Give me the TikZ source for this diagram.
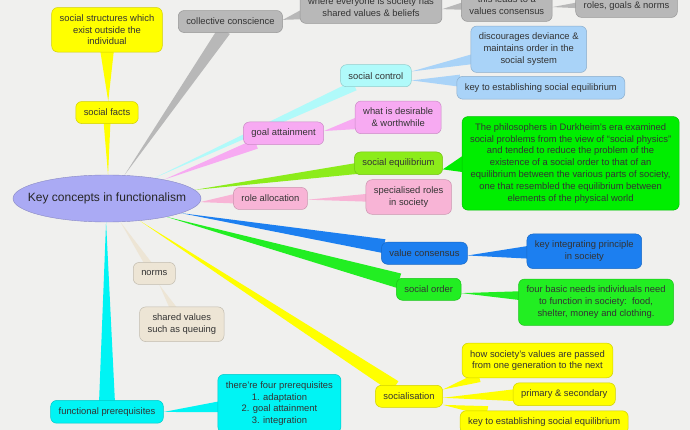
\documentclass[tikz,border=0pt]{standalone}
\usepackage{fontspec}
\setmainfont{Liberation Sans}
\usepackage{xcolor}
\usetikzlibrary{positioning, calc, backgrounds, shapes.geometric}

\definecolor{paper}{HTML}{F0F0EE}
\definecolor{sun}{HTML}{FFFF00}
\definecolor{ash}{HTML}{B8B8B8}
\definecolor{ice}{HTML}{B0FAFA}
\definecolor{sky}{HTML}{A9D3F8}
\definecolor{orchid}{HTML}{F7AAF2}
\definecolor{rose}{HTML}{F8B4D6}
\definecolor{lime}{HTML}{8CEC1A}
\definecolor{leaf}{HTML}{00EE00}
\definecolor{grass}{HTML}{22EE22}
\definecolor{ocean}{HTML}{1C7FF0}
\definecolor{sand}{HTML}{EDE5D5}
\definecolor{aqua}{HTML}{00F4F4}
\definecolor{hubfill}{HTML}{AAAAF4}

\begin{document}
\begin{tikzpicture}[
    x=1pt, y=-1pt,
    hub/.style={ellipse, draw=hubfill!80!black, fill=hubfill, minimum width=188pt, minimum height=47pt, inner xsep=-14pt, inner ysep=0pt, text=black!85, font=\fontsize{12}{14}\selectfont},
    topic/.style={draw=#1!82!black, line width=0.5pt, fill=#1, rounded corners=6pt, align=center, inner xsep=8pt, inner ysep=7pt, minimum height=22pt, text=black!80, font=\fontsize{9.4}{11.8}\selectfont},
    limb/.style={to path={let \p1=(\tikztostart), \p2=(\tikztotarget), \n1={scalar(atan2(\y1-\y2,\x1-\x2))}, \p3=($(\tikztotarget.\n1)!3pt!(\tikztotarget)$) in (\tikztostart) -- ($(\p3)!#1!90:(\tikztostart)$) -- ($(\p3)!#1!-90:(\tikztostart)$) -- cycle}},
  ]

  \useasboundingbox (0,0) rectangle (690,430);
  \begin{scope}[on background layer]
    \fill[paper] (0,0) rectangle (690,430);
  \end{scope}

  % ---- Hub ----
  \node[hub] (hub) at (107,198.5) {Key concepts in functionalism};

  % ---- Social facts ----
  \node[topic=sun, above=51pt of hub.north] (sfacts) {social facts};
  \node[topic=sun, above=49pt of sfacts] (outside) {social structures which\\exist outside the\\individual};

  % ---- Collective conscience ----
  \node[topic=ash, above right=142pt and 71pt of hub.north] (cconsc) {collective conscience};
  \node[topic=ash, right=17pt of cconsc, yshift=14.5pt] (shared) {where everyone is society has\\shared values \& beliefs};
  \node[topic=ash, right=19pt of shared, yshift=2pt] (leads) {this leads to a\\values consensus};
  \node[topic=ash, right=23pt of leads, yshift=-1pt] (roles) {roles, goals \& norms};

  % ---- Social control ----
  \node[topic=ice, above right=111.5pt and 139pt of hub.east] (sctrl) {social control};
  \node[topic=sky, right=59pt of sctrl, yshift=26.5pt] (deviance) {discourages deviance \&\\maintains order in the\\social system};
  \node[topic=sky, right=45pt of sctrl, yshift=-12pt] (keyeq) {key to establishing social equilibrium};

  % ---- Goal attainment ----
  \node[topic=orchid, above right=53.5pt and 42pt of hub.east] (goal) {goal attainment};
  \node[topic=orchid, right=31pt of goal, yshift=16pt] (worth) {what is desirable\\\& worthwhile};

  % ---- Social equilibrium ----
  \node[topic=lime, above right=23.5pt and 153pt of hub.east] (equil) {social equilibrium};
  \node[topic=leaf, right=19pt of equil] (physics) {The philosophers in Durkheim's era examined\\social problems from the view of ``social physics''\\and tended to reduce the problem of the\\existence of a social order to that of an\\equilibrium between the various parts of society,\\one that resembled the equilibrium between\\elements of the physical world};

  % ---- Role allocation ----
  \node[topic=rose, right=32pt of hub.east] (roleal) {role allocation};
  \node[topic=rose, right=58pt of roleal, yshift=1.5pt] (special) {specialised roles\\in society};

  % ---- Value consensus ----
  \node[topic=ocean, below right=43.5pt and 180pt of hub.east] (vcons) {value consensus};
  \node[topic=ocean, right=59pt of vcons, yshift=2pt] (integr) {key integrating principle\\in society};

  % ---- Social order ----
  \node[topic=grass, below right=79.5pt and 195pt of hub.east] (sorder) {social order};
  \node[topic=grass, right=57pt of sorder, yshift=-13pt] (needs) {four basic needs individuals need\\to function in society:\ \ food,\\shelter, money and clothing.};

  % ---- Socialisation ----
  \node[topic=sun, below right=186.5pt and 174pt of hub.east] (socz) {socialisation};
  \node[topic=sun, above right=7pt and 19pt of socz] (passed) {how society's values are passed\\from one generation to the next};
  \node[topic=sun, right=70pt of socz, yshift=2pt] (primary) {primary \& secondary};
  \node[topic=sun, below right=3pt and 17pt of socz] (keyeqb) {key to establishing social equilibrium};

  % ---- Norms ----
  \node[topic=sand, below right=40pt and 26pt of hub.south] (norms) {norms};
  \node[topic=sand, below=22pt of norms, xshift=27.5pt] (queue) {shared values\\such as queuing};

  % ---- Functional prerequisites ----
  \node[topic=aqua, below=178pt of hub.south] (fprereq) {functional prerequisites};
  \node[topic=aqua, below right=-26pt and 54pt of fprereq.north east] (four) {there're four prerequisites\\1. adaptation\\2. goal attainment\\3. integration};

  % ---- Branches ----
  \begin{scope}[on background layer]
    \fill[sun] (hub) to[limb=3.5pt] (sfacts);
    \fill[sun] (sfacts) to[limb=7pt] (outside);
    \fill[ash] (hub) to[limb=6.5pt] (cconsc);
    \fill[ash] (cconsc) to[limb=5pt] (shared);
    \fill[ash] (shared) to[limb=4pt] (leads);
    \fill[ash] (leads) to[limb=3pt] (roles);
    \fill[ice] (hub) to[limb=5pt] (sctrl);
    \fill[sky] (sctrl) to[limb=5pt] (deviance);
    \fill[sky] (sctrl) to[limb=6pt] (keyeq);
    \fill[orchid] (hub) to[limb=5pt] (goal);
    \fill[orchid] (goal) to[limb=6pt] (worth);
    \fill[lime] (hub) to[limb=5.5pt] (equil);
    \fill[leaf] (equil) to[limb=9pt] (physics);
    \fill[rose] (hub) to[limb=5pt] (roleal);
    \fill[rose] (roleal) to[limb=4pt] (special);
    \fill[ocean] (hub) to[limb=7pt] (vcons);
    \fill[ocean] (vcons) to[limb=6.5pt] (integr);
    \fill[grass] (hub) to[limb=7.5pt] (sorder);
    \fill[grass] (sorder) to[limb=4.5pt] (needs);
    \fill[sun] (hub) to[limb=6.5pt] (socz);
    \fill[sun] (socz) to[limb=5pt] (passed);
    \fill[sun] (socz) to[limb=6pt] (primary);
    \fill[sun] (socz) to[limb=5pt] (keyeqb);
    \fill[sand] (hub) to[limb=3.5pt] (norms);
    \fill[sand] (norms) to[limb=3.5pt] (queue);
    \fill[aqua] (hub) to[limb=8pt] (fprereq);
    \fill[aqua] (fprereq) to[limb=5.5pt] (four);
  \end{scope}

\end{tikzpicture}
\end{document}
